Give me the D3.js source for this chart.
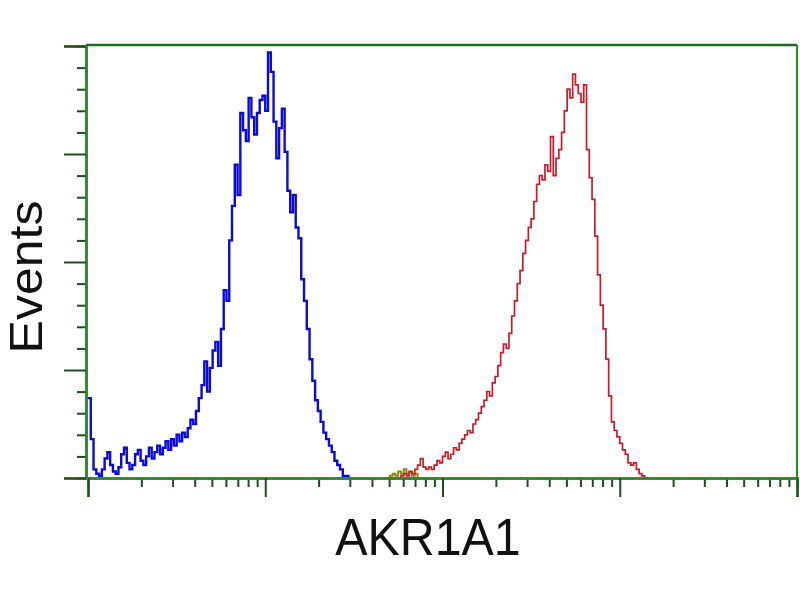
<!DOCTYPE html>
<html>
<head>
<meta charset="utf-8">
<script src="https://cdn.jsdelivr.net/npm/d3@7"></script>
<style>
  body { margin: 0; background: #fff; }
  text { font-family: "Liberation Sans", Arial, sans-serif; }
</style>
</head>
<body>
<div class="chart"></div>
<script>
var w = 800;
var h = 600;
var channelsPerDecade = 64;

// histogram counts, one value per channel (256 channels over 4 decades)
var blueStart = 0;
var blueCounts = [37, 18, 4, 2, 1, 4, 9, 12, 6, 3, 2, 5, 11, 14, 7, 4, 6, 11, 13, 8,
  6, 10, 14, 9, 12, 15, 11, 14, 17, 13, 18, 15, 20, 17, 21, 19, 23, 27, 25, 31,
  37, 43, 54, 40, 51, 59, 63, 52, 69, 87, 82, 110, 126, 145, 131, 169, 161, 156, 176, 167,
  159, 169, 175, 177, 170, 197, 188, 165, 148, 162, 171, 151, 133, 123, 131, 116, 111, 92, 82, 69,
  55, 45, 36, 31, 26, 21, 18, 15, 12, 8, 6, 4, 1, 1, 0];

var redStart = 112;
var redCounts = [0, 1, 2, 1, 3, 2, 4, 6, 9, 5, 4, 5, 4, 6, 8, 7, 10, 12, 9, 11,
  14, 13, 16, 18, 20, 22, 21, 25, 27, 30, 33, 36, 40, 38, 44, 47, 52, 58, 62, 60,
  67, 75, 82, 90, 96, 104, 110, 116, 120, 128, 136, 140, 138, 145, 142, 158, 140, 148, 152, 160,
  170, 180, 176, 187, 182, 178, 174, 182, 152, 139, 129, 112, 94, 80, 69, 55, 38, 26, 22, 19,
  16, 13, 11, 7, 6, 7, 4, 2, 1, 0];

var oliveStart = 108;
var oliveCounts = [0, 1, 2, 1, 3, 2, 4, 2, 3, 1, 2, 0];

var xMajorTicks = [1, 10, 100, 1000, 10000];
var yMajorTicks = [0, 50, 100, 150, 200];

var padLeft = 88, padRight = 797, padTop = 46, padBottom = 478;
var axisColor = "#2a8a2a";

var svg = d3.select(".chart").append("svg")
  .attr("width", w)
  .attr("height", h);

var xScale = d3.scaleLog()
  .domain([1, 10000])
  .range([padLeft, padRight]);
var yScale = d3.scaleLinear()
  .domain([0, 200])
  .range([padBottom, padTop]);

// minor ticks 2..9 in each decade
var xMinorTicks = [];
xMajorTicks.slice(0, -1).forEach(function(d) {
  for (var k = 2; k < 10; k++) xMinorTicks.push(d * k);
});
var yMinorTicks = d3.range(0, 201, 10).filter(function(d) { return d % 50 !== 0; });

function toPoints(start, counts) {
  var pts = counts.map(function(c, i) {
    return [Math.pow(10, (start + i) / channelsPerDecade), c];
  });
  pts.push([Math.pow(10, (start + counts.length) / channelsPerDecade), 0]);
  return pts;
}

var line = d3.line()
  .x(function(d) { return xScale(d[0]); })
  .y(function(d) { return yScale(d[1]); })
  .curve(d3.curveStepAfter);

// frame top + right
svg.append("line")
  .attr("x1", padLeft - 2).attr("x2", padRight)
  .attr("y1", padTop - 1).attr("y2", padTop - 1)
  .attr("stroke", "#1f6a1f").attr("stroke-width", 2.5);
svg.append("line")
  .attr("x1", padRight).attr("x2", padRight)
  .attr("y1", padTop - 1).attr("y2", padBottom)
  .attr("stroke", axisColor).attr("stroke-width", 2);

svg.append("path")
  .datum(toPoints(oliveStart, oliveCounts))
  .attr("d", line)
  .attr("fill", "none")
  .attr("stroke", "#8a8a10")
  .attr("stroke-width", 2);

svg.append("path")
  .datum(toPoints(blueStart, blueCounts))
  .attr("d", line)
  .attr("fill", "none")
  .attr("stroke", "#0a0ae0")
  .attr("stroke-width", 2.4);

svg.append("path")
  .datum(toPoints(redStart, redCounts))
  .attr("d", line)
  .attr("fill", "none")
  .attr("stroke", "#cc1a28")
  .attr("stroke-width", 1.7);

// x axis
var gx = svg.append("g")
  .attr("class", "axis-line")
  .attr("transform", "translate(0," + padBottom + ")");
gx.append("g")
  .call(d3.axisBottom(xScale).tickValues(xMinorTicks).tickSize(9).tickFormat(""));
gx.append("g")
  .call(d3.axisBottom(xScale).tickValues(xMajorTicks).tickSize(19).tickFormat(""));

// y axis
var gy = svg.append("g")
  .attr("class", "axis-line")
  .attr("transform", "translate(" + (padLeft - 2) + ",0)");
gy.append("g")
  .call(d3.axisLeft(yScale).tickValues(yMinorTicks).tickSize(9).tickFormat(""));
gy.append("g")
  .call(d3.axisLeft(yScale).tickValues(yMajorTicks).tickSize(22).tickFormat(""));

svg.selectAll(".axis-line path")
  .attr("stroke", axisColor)
  .attr("stroke-width", 2.5);
svg.selectAll(".axis-line line")
  .attr("stroke", "#1e4e1e")
  .attr("stroke-width", 2);

// labels (source image is slightly squeezed horizontally)
svg.append("text")
  .attr("transform", "translate(428,555) scale(0.93,1)")
  .attr("text-anchor", "middle")
  .attr("font-size", 52)
  .attr("fill", "#111")
  .text("AKR1A1");

svg.append("text")
  .attr("transform", "translate(42,277) scale(0.93,1) rotate(-90)")
  .attr("text-anchor", "middle")
  .attr("font-size", 50)
  .attr("fill", "#111")
  .text("Events");
</script>
</body>
</html>
